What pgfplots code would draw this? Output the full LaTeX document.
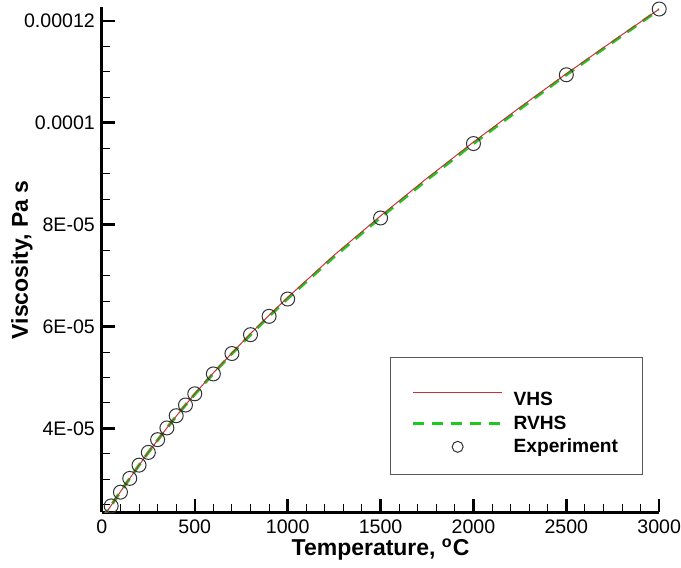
\documentclass[border=0pt]{standalone}
\usepackage{pgfplots}
\pgfplotsset{compat=1.18}
\usepackage{fontspec}
\setmainfont{Liberation Sans}
\definecolor{vhsred}{RGB}{200,50,60}
\definecolor{rvhsgreen}{RGB}{30,200,30}
\definecolor{expgray}{RGB}{50,50,50}
\pgfplotsset{
    lineleg/.style={legend image code/.code={\draw[##1] (0pt,0pt) -- (44.5pt,0pt);}},
    markleg/.style={legend image code/.code={\draw[##1, mark size=2.75pt] plot coordinates {(22.25pt,0pt)};}},
}
\newcommand{\rowstrut}{\rule[-1.9pt]{0pt}{9.1pt}}
\newcommand{\toprowstrut}{\rule[-1.9pt]{0pt}{16.6pt}}
\begin{document}
\begin{tikzpicture}
\begin{axis}[
    scale only axis,
    width=279pt, height=253pt,
    xmin=0, xmax=3000,
    ymin=2.353e-5, ymax=1.227e-4,
    axis lines*=left,
    axis line style={line width=1.6pt},
    tick align=inside,
    major tick length=6.5pt,
    minor tick length=4pt,
    major tick style={line width=1.2pt, black},
    minor tick style={line width=0.5pt, black},
    xtick={0,500,1000,1500,2000,2500,3000},
    xticklabels={0,500,1000,1500,2000,2500,3000},
    minor xtick={100,200,300,400,600,700,800,900,1100,1200,1300,1400,1600,1700,1800,1900,2100,2200,2300,2400,2600,2700,2800,2900},
    ytick={4e-5,6e-5,8e-5,1e-4,1.2e-4},
    yticklabels={4E-05,6E-05,8E-05,0.0001,0.00012},
    minor ytick={2.5e-5,3e-5,3.5e-5,4.5e-5,5e-5,5.5e-5,6.5e-5,7e-5,7.5e-5,8.5e-5,9e-5,9.5e-5,1.05e-4,1.1e-4,1.15e-4},
    scaled x ticks=false, scaled y ticks=false,
    ticklabel style={font=\fontsize{9.8}{11}\selectfont},
    xticklabel style={inner xsep=0pt},
    xlabel={Temperature, \textsuperscript{o}C},
    ylabel={Viscosity, Pa s},
    label style={font=\bfseries\fontsize{11.5}{13}\selectfont},
    xlabel style={at={([yshift=-21.8pt]axis description cs:0.5,0)}, anchor=base},
    ylabel style={at={([xshift=-37pt]axis description cs:0,0.5)}, anchor=base},
    clip marker paths=false,
    reverse legend,
    legend cell align=left,
    legend style={at={(0.970,0.074)}, anchor=south east,
        draw=gray!70!black, line width=0.5pt,
        inner xsep=10.5pt, inner ysep=8pt, column sep=3.5pt,
        font=\bfseries\fontsize{9.6}{11}\selectfont,
        nodes={inner sep=1.5pt}},
]
\addplot[only marks, mark=o, mark size=3.5pt, draw=expgray, line width=0.5pt, markleg]
table {
x y
50 2.48e-5
100 2.75e-5
150 3.02e-5
200 3.28e-5
250 3.53e-5
300 3.78e-5
350 4.01e-5
400 4.25e-5
450 4.46e-5
500 4.68e-5
600 5.07e-5
700 5.47e-5
800 5.84e-5
900 6.20e-5
1000 6.54e-5
1500 8.13e-5
2000 9.59e-5
2500 1.094e-4
3000 1.223e-4
};
\addlegendentry{\rowstrut Experiment}
\addplot[draw=rvhsgreen, line width=1.5pt, dash pattern=on 5.5pt off 4pt, no markers, lineleg]
table {
x y
0 2.22e-5
50 2.49e-5
100 2.76e-5
150 3.02e-5
200 3.28e-5
250 3.53e-5
300 3.77e-5
350 4.01e-5
400 4.24e-5
450 4.46e-5
500 4.67e-5
600 5.08e-5
700 5.47e-5
800 5.84e-5
900 6.20e-5
1000 6.55e-5
1250 7.37e-5
1500 8.14e-5
1750 8.88e-5
2000 9.59e-5
2250 1.027e-4
2500 1.094e-4
2750 1.158e-4
3000 1.222e-4
};
\addlegendentry{\rowstrut RVHS}
\addplot[draw=vhsred, line width=0.5pt, no markers, lineleg]
table {
x y
0 2.22e-5
50 2.49e-5
100 2.76e-5
150 3.02e-5
200 3.28e-5
250 3.53e-5
300 3.77e-5
350 4.01e-5
400 4.24e-5
450 4.46e-5
500 4.68e-5
600 5.09e-5
700 5.48e-5
800 5.86e-5
900 6.22e-5
1000 6.57e-5
1250 7.40e-5
1500 8.17e-5
1750 8.91e-5
2000 9.62e-5
2250 1.030e-4
2500 1.096e-4
2750 1.160e-4
3000 1.223e-4
};
\addlegendentry{\toprowstrut VHS}
\coordinate (ll) at (rel axis cs:0,0);
\coordinate (ur) at (rel axis cs:1,1);
\end{axis}
\path (ll) ++(-51pt,-26pt) coordinate (bbA);
\path (ur) ++(10.5pt,3.5pt) coordinate (bbB);
\path (bbA) rectangle (bbB);
\end{tikzpicture}
\end{document}
